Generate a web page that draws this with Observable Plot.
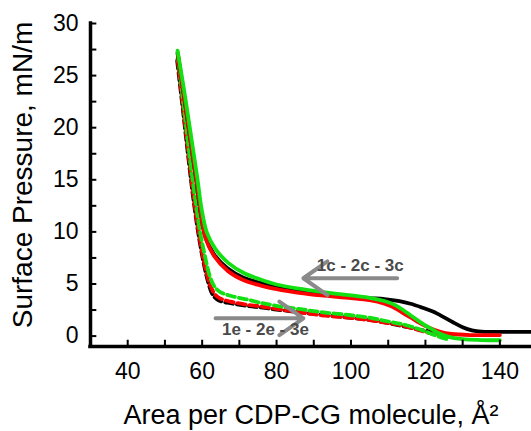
<!DOCTYPE html>
<html>
<head>
<meta charset="utf-8">
<script src="https://cdn.jsdelivr.net/npm/d3@7"></script>
<script src="https://cdn.jsdelivr.net/npm/@observablehq/plot@0.6"></script>
<style>
  html, body { margin: 0; padding: 0; background: #fff; }
</style>
</head>
<body>
<div id="chart"></div>
<script>
// ---- Data (area per molecule, Å²  vs  surface pressure, mN/m) ----
// Compression isotherms (solid)
const area1c = [53.4, 55.3, 56.9, 58.4, 59.6, 60.9, 63.1, 66.8, 71.1, 75.7, 80, 86, 92, 100, 105, 109, 113, 116, 119, 122, 125, 127.5, 130, 132.5, 135, 140, 148.5];
const pi1c   = [27.2, 22.6, 18.7, 15.0, 11.8, 9.5, 7.9, 6.5, 5.6, 5.1, 4.75, 4.4, 4.1, 3.8, 3.65, 3.55, 3.35, 3.1, 2.75, 2.35, 1.8, 1.3, 0.85, 0.55, 0.42, 0.4, 0.4];
const area2c = [53.5, 55.4, 57.0, 58.5, 59.7, 61.0, 63.2, 66.9, 71.2, 75.8, 80, 86, 92, 100, 105, 109, 112, 114, 116, 118.5, 121, 124, 127, 132, 140];
const pi2c   = [27.0, 22.4, 18.5, 14.9, 11.7, 9.3, 7.7, 6.25, 5.35, 4.85, 4.5, 4.15, 3.9, 3.65, 3.45, 3.1, 2.65, 2.2, 1.8, 1.25, 0.8, 0.4, 0.2, 0.1, 0.1];
const area3c = [53.4, 55.5, 57.1, 58.7, 59.9, 61.3, 63.5, 67.1, 71.2, 75.5, 80, 86, 92, 100, 105, 109.6, 112, 114, 116, 118.5, 121, 123.5, 126, 130, 135, 140];
const pi3c   = [27.4, 22.8, 19.0, 15.2, 12.1, 9.9, 8.4, 7.0, 6.05, 5.45, 4.95, 4.55, 4.25, 3.9, 3.67, 3.3, 2.95, 2.5, 2.0, 1.37, 0.8, 0.3, -0.05, -0.3, -0.38, -0.4];
// Expansion isotherms (dashed)
const area1e = [53.3, 54.9, 56.5, 57.7, 59.0, 60.3, 61.6, 62.8, 64.3, 67.6, 72.2, 75.7, 80, 86, 92, 100, 105, 110, 114, 118, 121, 124, 125.5];
const pi1e   = [26.4, 21.5, 16.5, 13.0, 9.8, 7.2, 5.2, 4.0, 3.45, 3.15, 2.9, 2.75, 2.55, 2.3, 2.05, 1.75, 1.55, 1.25, 0.95, 0.65, 0.45, 0.2, 0.0];
const area2e = [53.4, 55.0, 56.6, 57.8, 59.1, 60.4, 61.7, 62.9, 64.4, 67.6, 72.2, 75.7, 80, 86, 92, 100, 105, 110, 114, 118, 121, 124, 126.5];
const pi2e   = [26.6, 21.6, 16.6, 13.1, 9.9, 7.3, 5.4, 4.3, 3.7, 3.3, 3.0, 2.85, 2.6, 2.3, 2.0, 1.75, 1.53, 1.25, 1.0, 0.6, 0.3, 0.0, -0.25];
const area3e = [53.4, 55.1, 56.8, 58.1, 59.4, 60.8, 62.1, 63.4, 65.0, 67.8, 72.2, 75.7, 80, 86, 92, 100, 105, 110, 114, 118, 121, 124, 126.6];
const pi3e   = [27.1, 22.0, 16.8, 13.3, 10.1, 7.6, 5.7, 4.7, 4.2, 3.85, 3.5, 3.2, 2.9, 2.6, 2.3, 2.0, 1.76, 1.4, 1.12, 0.7, 0.3, -0.1, -0.4];

// Ticks
const xTickLabels = [40, 60, 80, 100, 120, 140];
const xTickMarks  = [40, 50, 60, 70, 80, 90, 100, 110, 120, 130, 140];
const yTickLabels = [0, 5, 10, 15, 20, 25, 30];
const yTickMarks  = [0, 2.5, 5, 7.5, 10, 12.5, 15, 17.5, 20, 22.5, 25, 27.5, 30];

// Titles & annotations
const xTitle = "Area per CDP-CG molecule, Å²";
const yTitle = "Surface Pressure, mN/m";
const arrowLabels = [
  {text: "1c - 2c - 3c", area: 102.5, pi: 6.74},
  {text: "1e - 2e - 3e", area: 77.0, pi: 0.67}
];
const arrows = [
  {from: 112.4, to: 87.2, pi: 5.55},
  {from: 63.6, to: 87.2, pi: 1.7}
];

// Build series table
const mk = (xs, ys, id) => xs.map((a, i) => ({area: a, pi: ys[i], id}));
const series = [
  {id: "1e", xs: area1e, ys: pi1e, color: "#000000", dash: "8,4"},
  {id: "2e", xs: area2e, ys: pi2e, color: "#ff0000", dash: "8,4"},
  {id: "3e", xs: area3e, ys: pi3e, color: "#12e012", dash: "8,4"},
  {id: "1c", xs: area1c, ys: pi1c, color: "#000000", dash: null},
  {id: "2c", xs: area2c, ys: pi2c, color: "#ff0000", dash: null},
  {id: "3c", xs: area3c, ys: pi3c, color: "#12e012", dash: null}
];

const xMin = 30, xMax = 148.5, yMin = -1, yMax = 30;

const lineMarks = series.map(s => Plot.line(mk(s.xs, s.ys, s.id), {
  x: "area", y: "pi", stroke: s.color, strokeWidth: 3.8,
  strokeDasharray: s.dash, curve: "catmull-rom"
}));

const chart = Plot.plot({
  width: 531,
  height: 431,
  marginLeft: 90,
  marginRight: 0,
  marginTop: 23,
  marginBottom: 85,
  x: {domain: [xMin, xMax]},
  y: {domain: [yMin, yMax]},
  style: {fontFamily: "'Liberation Sans', Arial, sans-serif", fontSize: "23px", background: "#fff", overflow: "visible"},
  marks: [
    ...lineMarks,
    // arrows
    Plot.arrow(arrows, {x1: "from", x2: "to", y1: "pi", y2: "pi", stroke: "#8a8a8a", strokeWidth: 4, headLength: 11, headAngle: 70}),
    Plot.text(arrowLabels, {x: "area", y: "pi", text: "text", fontWeight: "bold", fontSize: 17, fill: "#4a4a4a"}),
    // tick marks (inward)
    Plot.ruleX(xTickMarks, {x: d => d, y1: yMin, y2: yMin + 0.6, stroke: "#000", strokeWidth: 2}),
    Plot.ruleY(yTickMarks, {y: d => d, x1: xMin, x2: xMin + 1.7, stroke: "#000", strokeWidth: 2}),
    // axis lines
    Plot.ruleX([xMin], {y1: yMin, y2: yMax, stroke: "#000", strokeWidth: 3.5, strokeLinecap: "square"}),
    Plot.ruleY([yMin], {x1: xMin, x2: xMax, stroke: "#000", strokeWidth: 3.5, strokeLinecap: "square"}),
    // tick labels
    Plot.axisX(xTickLabels, {tickSize: 0, tickPadding: 16, fontSize: 23, label: null}),
    Plot.axisY(yTickLabels, {tickSize: 0, tickPadding: 12, fontSize: 23, label: null}),
    // titles
    Plot.text([xTitle], {frameAnchor: "bottom", dy: 69, lineAnchor: "middle", textAnchor: "middle", fontSize: 27, text: d => d}),
    Plot.text([yTitle], {frameAnchor: "left", dx: -67, dy: -10, rotate: -90, lineAnchor: "middle", textAnchor: "middle", fontSize: 28, text: d => d})
  ]
});
document.getElementById("chart").appendChild(chart);
</script>
</body>
</html>
